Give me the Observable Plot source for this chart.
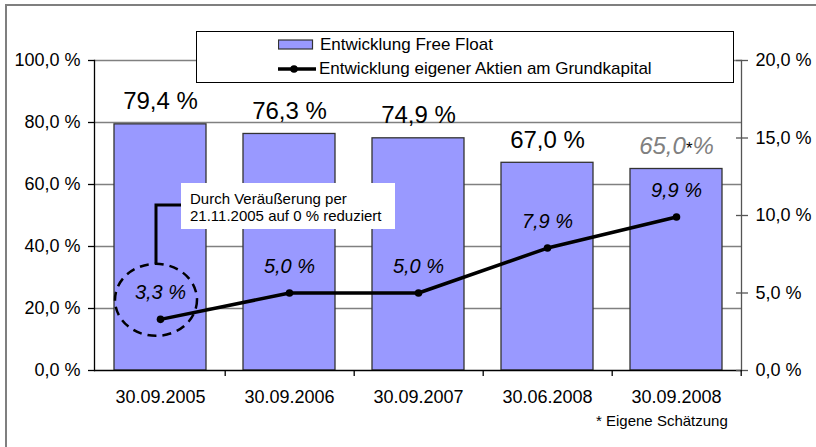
<!DOCTYPE html>
<html><head><meta charset="utf-8">
<script src="https://cdn.jsdelivr.net/npm/d3@7"></script>
<script src="https://cdn.jsdelivr.net/npm/@observablehq/plot@0.6"></script>
<style>
body{margin:0;background:#fff;font-family:"Liberation Sans",Arial,sans-serif;}
#wrap{position:relative;width:816px;height:447px;overflow:hidden;background:#fff}
#wrap > svg{position:absolute;left:0;top:0}
#border{position:absolute;left:5px;top:4px;width:840px;height:470px;border:2px solid #7f7f7f;box-sizing:border-box}
#legend{position:absolute;left:196px;top:31px;width:538px;height:52px;border:1px solid #000;background:#fff;box-sizing:border-box;font-size:17px;color:#000}
#legend .it{position:absolute;left:81px;display:flex;align-items:center;height:20px}
#legend .it span{margin-left:6px;white-space:nowrap}
</style></head><body><div id="wrap"><div id="border"></div></div>
<script>
const categories = ["30.09.2005","30.09.2006","30.09.2007","30.06.2008","30.09.2008"];
const freeFloat = [79.4, 76.3, 74.9, 67.0, 65.0];
const ownShares = [3.3, 5.0, 5.0, 7.9, 9.9];
const estimated = [false, false, false, false, true];
const leftTicks = [0, 20, 40, 60, 80, 100];
const rightTicks = [0, 5, 10, 15, 20];
const seriesNames = ["Entwicklung Free Float", "Entwicklung eigener Aktien am Grundkapital"];
const noteLines = ["Durch Veräußerung per", "21.11.2005 auf 0 % reduziert"];
const footnote = "* Eigene Schätzung";

const ratio = 100 / 20; // right axis (0–20 %) mapped onto left axis (0–100 %)
const fmt = d => d.toFixed(1).replace(".", ",") + " %";
const data = categories.map((c, i) => ({cat: c, ff: freeFloat[i], own: ownShares[i], est: estimated[i]}));

const W = 816, H = 447, mL = 94, mR = 75, mT = 60, mB = 77;
const step = (W - mL - mR) / categories.length;
const font = "Liberation Sans, Arial, sans-serif";

const chart = Plot.plot({
  width: W, height: H,
  marginLeft: mL, marginRight: mR, marginTop: mT, marginBottom: mB,
  style: {fontFamily: font, background: "transparent", color: "#000"},
  x: {domain: categories, paddingInner: 0.29, paddingOuter: 0.145, label: null},
  y: {domain: [0, 100], label: null},
  marks: [
    Plot.ruleY(leftTicks.slice(1), {stroke: "#808080", strokeWidth: 1.3}),
    Plot.barY(data, {x: "cat", y: "ff", fill: "#9999FF", stroke: "#333", strokeWidth: 1.3}),
    Plot.frame({anchor: "left", stroke: "#000", strokeWidth: 1.3}),
    Plot.frame({anchor: "right", stroke: "#555", strokeWidth: 1.3}),
    Plot.ruleY([0], {stroke: "#000", strokeWidth: 1.3}),
    Plot.axisY({ticks: leftTicks, tickFormat: fmt, tickSize: 6, tickPadding: 8, fontSize: 18, stroke: "#000", strokeWidth: 1.3}),
    Plot.axisY({anchor: "right", ticks: rightTicks.map(v => v * ratio), tickFormat: d => fmt(d / ratio), tickSize: 12, dx: -6, tickPadding: 8, fontSize: 18, stroke: "#555", strokeWidth: 1.3}),
    Plot.axisX({tickSize: 0, tickPadding: 20, fontSize: 18, label: null}),
    Plot.axisX({tickSize: 6, tickFormat: () => "", dx: step / 2, stroke: "#000", strokeWidth: 1.3, label: null}),
    Plot.line(data, {x: "cat", y: d => d.own * ratio, stroke: "#000", strokeWidth: 3.5}),
    Plot.dot(data, {x: "cat", y: d => d.own * ratio, r: 3.8, fill: "#000"}),
    Plot.text(data, {x: "cat", y: d => d.own * ratio, text: d => fmt(d.own), dy: -20, lineAnchor: "bottom", fontSize: 20, fontStyle: "italic", fill: "#000"}),
    Plot.text(data, {x: "cat", y: "ff", text: d => d.est ? fmt(d.ff).replace(" %", "*%") : fmt(d.ff), dy: -15, lineAnchor: "bottom", fontSize: 24, fill: d => d.est ? "#808080" : "#000"})
  ]
});

// split the estimated label: grey italic value, small black asterisk
chart.querySelectorAll("text").forEach(t => {
  const s = t.textContent;
  if (s.includes("*")) {
    const [a, b] = s.split("*");
    t.textContent = "";
    t.setAttribute("font-style", "italic");
    t.style.fontStyle = "italic";
    const mk = (txt, attrs) => {
      const ts = document.createElementNS("http://www.w3.org/2000/svg", "tspan");
      ts.textContent = txt;
      for (const k in attrs) ts.setAttribute(k, attrs[k]);
      t.appendChild(ts);
    };
    mk(a, {});
    mk("*", {fill: "#000", "font-size": "17", "font-style": "normal"});
    mk(b, {});
  }
});

const wrap = document.getElementById("wrap");
wrap.appendChild(chart);

// annotation (positioned with the chart's own scales)
const sx = chart.scale("x"), sy = chart.scale("y");
const px = sx.apply(categories[0]) + sx.bandwidth / 2;
const py = sy.apply(ownShares[0] * ratio);
const cx = px - 4, cy = py - 19;
const ann = d3.create("svg").attr("width", W).attr("height", H).style("position", "absolute").style("left", 0).style("top", 0);
ann.append("ellipse").attr("cx", cx).attr("cy", cy).attr("rx", 41).attr("ry", 36)
  .attr("fill", "none").attr("stroke", "#000").attr("stroke-width", 2.5).attr("stroke-dasharray", "9 6");
const bx = 181, by = 183, bw = 214, bh = 46;
ann.append("path").attr("d", `M${cx},${cy - 36}V${by + 22}H${bx}`).attr("fill", "none").attr("stroke", "#000").attr("stroke-width", 3);
ann.append("rect").attr("x", bx).attr("y", by).attr("width", bw).attr("height", bh).attr("fill", "#fff");
ann.append("text").attr("font-family", font).attr("font-size", 15).attr("fill", "#000")
  .selectAll("tspan").data(noteLines).join("tspan")
  .attr("x", bx + 9).attr("y", (d, i) => by + 21 + i * 17).text(d => d);
ann.append("text").attr("font-family", font).attr("font-size", 15).attr("fill", "#000")
  .attr("x", 596).attr("y", 426).text(footnote);
wrap.appendChild(ann.node());

// legend
const leg = document.createElement("div");
leg.id = "legend";
leg.innerHTML = `
<div class="it" style="top:3px"><svg width="36" height="12"><rect x="0.5" y="1" width="34" height="9" fill="#9999FF" stroke="#333" stroke-width="1.2"/></svg><span>${seriesNames[0]}</span></div>
<div class="it" style="top:27px"><svg width="38" height="12"><line x1="0" y1="6" x2="38" y2="6" stroke="#000" stroke-width="3.5"/><circle cx="16" cy="6" r="3.8" fill="#000"/></svg><span style="margin-left:3px">${seriesNames[1]}</span></div>`;
wrap.appendChild(leg);
</script></body></html>
